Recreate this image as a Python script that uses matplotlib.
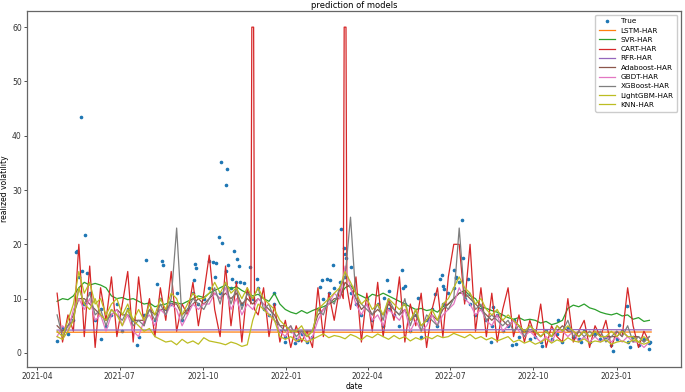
import numpy as np
import pandas as pd
import matplotlib
matplotlib.use("Agg")
import matplotlib.pyplot as plt
import matplotlib.dates as mdates

# -------------------------------------------------------------------
# data (read off the reference, sampled every 6 days)
# -------------------------------------------------------------------
dates = pd.date_range("2021-04-23", periods=110, freq="6D")

true_vals = [2.2, 4.5, 3.5, 6, 14, 9, 11, 6, 8, 5,
             7, 9, 4, 8, 6, 3, 7, 9, 6, 10,
             8, 9, 11, 6, 8, 11, 9, 10, 12, 14,
             11, 15, 12, 13, 9, 11, 10, 12, 8, 7,
             9, 4, 3, 4, 2.5, 3.5, 2, 3, 8, 10,
             11, 12, 13, 14, 11, 9, 7, 10, 6, 9,
             5, 8, 7, 5, 9, 4, 7, 3, 6, 8,
             5, 9, 11, 12, 13, 10, 9, 7, 8, 6,
             5, 7, 4, 5, 6, 3, 4, 2.5, 3, 2,
             4, 2.5, 3.5, 2, 4.5, 3, 2.5, 4, 2, 3.5,
             2.5, 3, 1.5, 2.5, 4, 2, 3, 1.5, 2.5, 1.8]

# true values that stick out of the bundle of lines
true_extra_dates = ["2021-05-14", "2021-05-15", "2021-05-19", "2021-05-20", "2021-05-24",
                    "2021-05-26", "2021-06-11", "2021-07-20", "2021-07-30", "2021-08-11",
                    "2021-08-17", "2021-08-18", "2021-09-21", "2021-09-22", "2021-09-23",
                    "2021-10-08", "2021-10-12", "2021-10-15", "2021-10-19", "2021-10-21",
                    "2021-10-22", "2021-10-27", "2021-10-28", "2021-10-29", "2021-11-02",
                    "2021-11-04", "2021-11-08", "2021-11-10", "2021-11-11", "2021-11-15",
                    "2021-11-22", "2021-11-30", "2021-12-19", "2021-12-31", "2022-01-11",
                    "2022-01-14", "2022-02-07", "2022-02-10", "2022-02-15", "2022-02-18",
                    "2022-02-22", "2022-03-02", "2022-03-06", "2022-03-07", "2022-03-08",
                    "2022-03-14", "2022-04-19", "2022-04-22", "2022-04-25", "2022-05-09",
                    "2022-05-10", "2022-05-12", "2022-05-26", "2022-06-14", "2022-06-20",
                    "2022-06-22", "2022-06-23", "2022-06-24", "2022-07-05", "2022-07-07",
                    "2022-07-08", "2022-07-14", "2022-07-15", "2022-07-21", "2022-08-15",
                    "2022-08-17", "2022-09-07", "2022-09-12", "2022-10-10", "2022-10-28",
                    "2022-11-22", "2022-12-28", "2023-01-04", "2023-01-12", "2023-01-16",
                    "2023-02-06", "2023-02-07"]
true_extra_vals = [18.5, 18.7, 43.5, 15.1, 21.7,
                   14.7, 2.5, 1.5, 17.2, 12.6,
                   16.9, 16.2, 13.5, 16.4, 15.7,
                   16.9, 16.8, 16.5, 21.3, 35.1,
                   20.2, 30.9, 33.8, 16.2, 13.7,
                   18.7, 17.3, 16.0, 13.1, 12.9,
                   15.8, 13.7, 11.1, 2.0, 1.9,
                   2.3, 12.2, 13.5, 13.7, 13.5,
                   16.1, 22.8, 19.3, 18.2, 17.5,
                   15.9, 10.2, 13.4, 11.4, 15.3,
                   11.9, 12.3, 10.1, 10.8, 13.6,
                   14.4, 12.3, 11.8, 15.2, 13.8,
                   14.0, 24.5, 17.5, 13.7, 2.0,
                   8.4, 1.4, 1.6, 1.3, 6.1,
                   2.0, 0.4, 5.1, 8.7, 1.0,
                   0.7, 2.0]

# LSTM-HAR and RFR-HAR are practically flat
flat_dates = ["2021-04-23", "2021-10-15", "2022-04-15", "2022-10-14", "2023-02-08"]
lstm_vals = [3.8, 3.85, 3.8, 3.8, 3.85]
rfr_vals = [4.2, 4.25, 4.2, 4.3, 4.25]

svr_vals = [9.5, 10, 9.8, 10.5, 12, 13, 12.5, 12.8, 12.5, 12,
            10.5, 10, 10.2, 9.8, 10, 9.5, 9, 9.2, 8.5, 8.8,
            9, 9.5, 9.2, 9, 9.5, 10, 10.5, 10.2, 11, 11.5,
            12, 12.5, 11.8, 12.2, 11.5, 11, 10.5, 10.8, 10, 9.5,
            11, 9, 8, 7.5, 7.2, 7.8, 7.3, 7.8, 8.2, 8.5,
            9, 9.5, 10.5, 12, 12.5, 11, 10.5, 10, 10.8, 10.5,
            11, 10.5, 10, 9.5, 9, 8.5, 8, 8.2, 7.8, 8,
            7.5, 8.5, 9, 10, 11, 11.5, 10.5, 10, 8.5, 8.2,
            7.8, 7.5, 7, 6.5, 6.2, 6.5, 6, 6.2, 6.0, 5.5,
            5.8, 5.2, 5.5, 6.0, 8.2, 8.8, 8.5, 9.0, 8.3, 8.0,
            7.5, 7.2, 7.0, 7.3, 6.8, 7.0, 6.2, 6.5, 5.8, 6.0]

cart_vals = [11, 2, 7, 4, 20, 3, 16, 1, 12, 6,
             14, 3, 9, 15, 2, 14, 5, 10, 3, 12,
             6, 15, 4, 9, 7, 13, 5, 11, 18, 8,
             3, 16, 5, 13, 2, 12, 60, 7, 12, 3,
             9, 2, 6, 1, 5, 2, 4, 1, 12, 3,
             11, 6, 12, 60, 8, 14, 2, 11, 4, 13,
             3, 10, 6, 14, 2, 9, 5, 11, 1, 8,
             12, 3, 14, 20, 20, 9, 20, 4, 12, 3,
             11, 2, 8, 12, 3, 7, 2, 6, 3, 9,
             1, 5, 3, 2, 10, 2, 4, 6, 1, 5,
             3, 6, 1, 4, 3, 12, 5, 1, 4, 2]
# extra points around the two 60 spikes
cart_extra_dates = ["2021-11-23", "2021-11-24", "2021-11-26", "2021-11-27",
                    "2022-03-05", "2022-03-06", "2022-03-08", "2022-03-09"]
cart_extra_vals = [9, 60, 60, 8, 10, 60, 60, 12]

ada_vals = [5, 4, 5, 7, 10, 10, 9, 8, 7, 6,
            7, 8, 7, 7, 6, 6, 6, 8, 7, 8,
            8, 9, 9, 7, 8, 9, 10, 9, 10, 11,
            10, 11, 10, 11, 9, 10, 9, 10, 9, 8,
            7, 5, 5, 4, 4, 4, 4, 4, 7, 8,
            9, 10, 10, 13, 12, 10, 8, 9, 7, 8,
            7, 9, 8, 7, 8, 6, 7, 5, 6, 7,
            6, 8, 9, 10, 11, 11, 10, 9, 8, 7,
            6, 7, 6, 5, 6, 5, 4, 4, 4, 3,
            4, 3, 4, 5, 4, 4, 3, 4, 3, 4,
            3, 3, 3, 3, 4, 3, 3, 3, 2, 3]

gbdt_vals = [3, 5, 4, 8, 10, 8, 10, 6, 7, 4,
             7, 8, 5, 7, 4, 3, 6, 7, 5, 8,
             7, 9, 8, 5, 7, 9, 8, 9, 9, 11,
             10, 12, 8, 10, 7, 9, 8, 10, 9, 7,
             6, 4, 3, 5, 2, 4, 2, 3, 6, 8,
             9, 11, 10, 16, 12, 9, 7, 9, 6, 7,
             5, 8, 7, 6, 8, 4, 6, 4, 5, 7,
             5, 7, 8, 9, 12, 10, 9, 7, 8, 6,
             5, 7, 4, 5, 6, 4, 3, 4, 3, 2,
             3, 2, 4, 4, 3, 4, 2, 3, 2, 3,
             2, 3, 2, 3, 2, 3, 2, 2, 1, 2]

xgb_vals = [7, 3, 5, 6, 12, 9, 11, 7, 8, 5,
            8, 7, 6, 8, 5, 6, 5, 8, 6, 9,
            7, 10, 23, 6, 8, 10, 9, 8, 10, 12,
            9, 13, 9, 12, 8, 11, 10, 12, 8, 9,
            6, 5, 4, 5, 3, 4, 3, 4, 8, 7,
            10, 9, 12, 14, 25, 10, 9, 8, 7, 9,
            6, 10, 8, 7, 10, 5, 8, 4, 7, 6,
            5, 9, 8, 10, 23, 10, 11, 8, 9, 6,
            7, 6, 5, 6, 4, 5, 3, 5, 4, 3,
            4, 3, 5, 4, 6, 3, 4, 3, 4, 3,
            4, 2, 3, 4, 3, 5, 2, 3, 2, 3]

lgbm_vals = [4, 3, 6, 9, 15, 11, 13, 9, 10, 7,
             9, 10, 7, 9, 6, 8, 6, 9, 7, 10,
             8, 11, 10, 7, 9, 11, 10, 10, 11, 13,
             11, 13, 11, 12, 10, 12, 10, 12, 10, 9,
             8, 6, 5, 4, 4, 5, 3, 4, 8, 9,
             10, 11, 12, 15, 13, 11, 9, 10, 8, 9,
             7, 10, 9, 8, 9, 6, 8, 5, 6, 8,
             6, 9, 10, 12, 14, 12, 11, 9, 10, 8,
             7, 8, 6, 7, 6, 5, 4, 5, 4, 3,
             4, 3, 5, 4, 5, 4, 3, 4, 3, 4,
             3, 3, 4, 3, 4, 3, 3, 2, 3, 2]

knn_vals = [3, 2.5, 4, 6, 12, 9, 8, 10, 7, 6,
            8, 7, 5, 8, 6, 5, 4, 4.5, 3, 2.5,
            2, 2.2, 1.5, 2.5, 1.8, 2.2, 1.6, 2.8, 2.2, 2.0,
            1.8, 1.5, 2.0, 1.7, 1.2, 1.5, 6, 9, 8, 7,
            6, 3, 2.5, 3, 2.2, 2.6, 2.0, 2.5, 3.0, 3.5,
            2.8, 3.2, 3.0, 2.6, 3.4, 3.0, 2.4, 3.2, 2.8, 3.5,
            3.0, 2.5, 3.2, 2.6, 3.0, 2.2, 2.8, 2.4, 3.0, 2.6,
            3.2, 2.8, 3.0, 3.6, 3.2, 2.8, 3.4, 2.6, 3.0, 2.4,
            2.8, 2.2, 2.6, 3.0, 2.0, 2.4, 1.8, 2.2, 1.6, 2.0,
            2.6, 1.8, 2.4, 2.0, 2.8, 2.2, 2.0, 2.6, 1.8, 2.2,
            2.0, 2.4, 1.6, 2.0, 2.2, 1.8, 2.4, 2.0, 1.6, 2.0]

# -------------------------------------------------------------------
# assemble
# -------------------------------------------------------------------
true_s = pd.concat([pd.Series(true_vals, index=dates),
                    pd.Series(true_extra_vals, index=pd.to_datetime(true_extra_dates))]).sort_index()
cart_s = pd.concat([pd.Series(cart_vals, index=dates),
                    pd.Series(cart_extra_vals, index=pd.to_datetime(cart_extra_dates))]).sort_index()
flat_idx = pd.to_datetime(flat_dates)

models = [
    ("LSTM-HAR", flat_idx, lstm_vals, "#ff7f0e"),
    ("SVR-HAR", dates, svr_vals, "#2ca02c"),
    ("CART-HAR", cart_s.index, cart_s.values, "#d62728"),
    ("RFR-HAR", flat_idx, rfr_vals, "#9467bd"),
    ("Adaboost-HAR", dates, ada_vals, "#8c564b"),
    ("GBDT-HAR", dates, gbdt_vals, "#e377c2"),
    ("XGBoost-HAR", dates, xgb_vals, "#7f7f7f"),
    ("LightGBM-HAR", dates, lgbm_vals, "#bcbd22"),
    ("KNN-HAR", dates, knn_vals, "#bcbd22"),
]

# -------------------------------------------------------------------
# plot
# -------------------------------------------------------------------
plt.rcParams["font.size"] = 5.5
fig = plt.figure(figsize=(6.85, 3.92), dpi=100)
ax = fig.add_axes([0.040, 0.064, 0.954, 0.908])

ax.plot(true_s.index, true_s.values, ".", color="#1f77b4", markersize=3.2, label="True")
for name, x, y, c in models:
    ax.plot(x, y, color=c, linewidth=0.9, label=name)

ax.xaxis.set_major_locator(mdates.MonthLocator(bymonth=[1, 4, 7, 10]))
ax.xaxis.set_major_formatter(mdates.DateFormatter("%Y-%m"))
ax.set_yticks([0, 10, 20, 30, 40, 50, 60])
ax.tick_params(length=2.5, width=0.6, pad=1.5, colors="#333333")
for sp in ax.spines.values():
    sp.set_color("#666666")
    sp.set_linewidth(0.9)

ax.set_title("prediction of models", fontsize=6, pad=2)
ax.set_xlabel("date", labelpad=0.5)
ax.set_ylabel("realized volatility", labelpad=2)
ax.legend(loc="upper right", fontsize=5.2, handlelength=2.2, labelspacing=0.45,
          borderpad=0.5, framealpha=1.0, edgecolor="#cccccc")

fig.savefig("out.png", dpi=100)
